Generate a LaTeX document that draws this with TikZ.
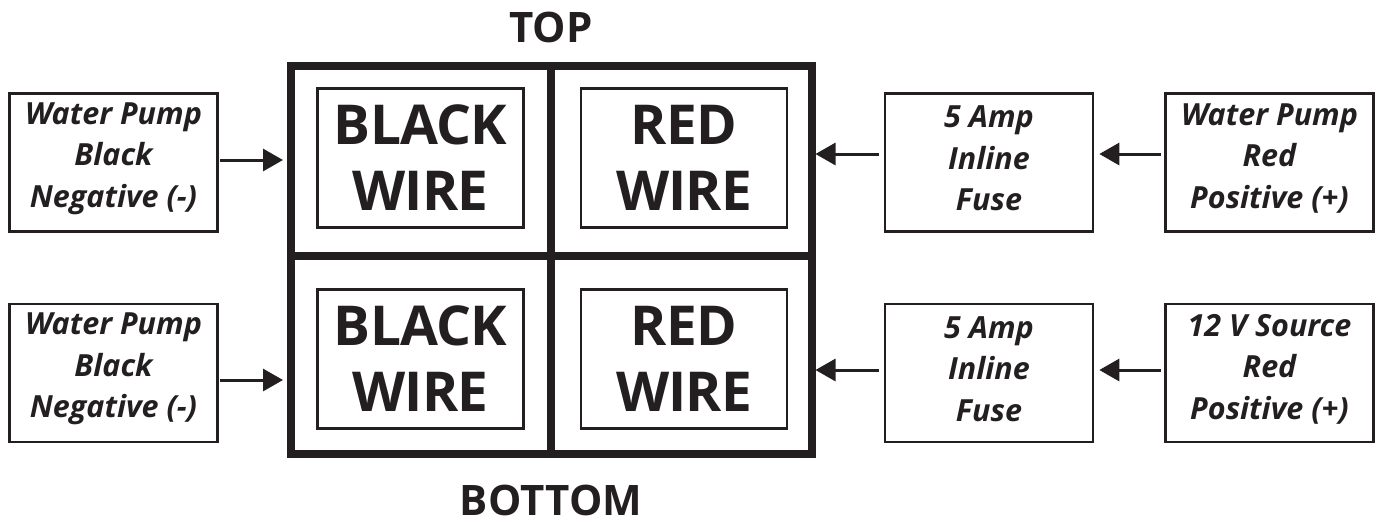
\documentclass[tikz,border=0pt]{standalone}
\usepackage{fontspec}
\setmainfont{Open Sans}
\usetikzlibrary{arrows.meta}
\definecolor{ink}{HTML}{231F20}
\begin{document}
\begin{tikzpicture}[x=1pt,y=-1pt,
  every node/.style={text=ink},
  frame/.style={draw=ink,line width=8pt,minimum width=520.5pt,minimum height=388.5pt,inner sep=0pt,outer sep=4pt},
  divider/.style={draw=ink,line width=8pt},
  wirebox/.style={draw=ink,line width=2.6pt,minimum width=206pt,minimum height=139pt,inner sep=0pt,outer sep=0pt,
    font=\fontsize{55}{66}\selectfont\bfseries\addfontfeature{LetterSpace=-1.5},align=center},
  sidebox/.style={draw=ink,line width=2.6pt,minimum width=208pt,minimum height=138pt,inner sep=0pt,outer sep=1.3pt},
  sidetext/.style={inner sep=0pt,font=\fontsize{30.5}{41.5}\selectfont\bfseries\itshape,align=center},
  title/.style={font=\fontsize{42}{50}\selectfont\bfseries,anchor=base,inner sep=0pt},
  arr/.style={draw=ink,line width=3pt,-{Triangle[length=20pt,width=22pt]}}]
\useasboundingbox (0,0) rectangle (1380,523);
% titles
\node[title] (top) at (551,42) {TOP};
\node[title] (bottom) at (551,515) {BOTTOM};
% frame
\node[frame] (frame) at (551.25,259.75) {};
\draw[divider] (frame.north |- 0,65.5) -- (frame.south |- 0,454);
\draw[divider] (291,255.5) -- (811.5,255.5);
% inner wire boxes
\node[wirebox] (tl) at (420.5,158) {BLACK\\WIRE};
\node[wirebox] (tr) at (684,158) {RED\\WIRE};
\node[wirebox] (bl) at (420.5,359) {BLACK\\WIRE};
\node[wirebox] (br) at (684,359) {RED\\WIRE};
% side boxes
\node[sidebox] (lb1) at (113.5,162.5) {};
\node[sidebox] (lb2) at (113.5,373) {};
\node[sidebox] (f1) at (989,162.5) {};
\node[sidebox] (f2) at (989,373) {};
\node[sidebox] (rb1) at (1269.5,162.5) {};
\node[sidebox] (rb2) at (1269.5,373) {};
\node[sidetext] (lt1) at ([yshift=4pt]lb1.center) {Water Pump\\Black\\Negative (-)};
\node[sidetext] (lt2) at ([yshift=4pt]lb2.center) {Water Pump\\Black\\Negative (-)};
\node[sidetext] (ft1) at ([yshift=4pt]f1.center) {5 Amp\\Inline\\Fuse};
\node[sidetext] (ft2) at ([yshift=4pt]f2.center) {5 Amp\\Inline\\Fuse};
\node[sidetext] (rt1) at ([yshift=4pt]rb1.center) {Water Pump\\Red\\Positive (+)};
\node[sidetext] (rt2) at ([yshift=4pt]rb2.center) {12 V Source\\Red\\Positive (+)};
% arrows
\coordinate (a1) at ([xshift=1pt,yshift=2.5pt]lb1.east);
\coordinate (a2) at ([xshift=1pt,yshift=-7pt]lb2.east);
\draw[arr,shorten >=4pt] (a1) -- (frame.west |- a1);
\draw[arr,shorten >=4pt] (a2) -- (frame.west |- a2);
\coordinate (b1) at ([xshift=-5pt,yshift=8.5pt]f1.west);
\coordinate (b2) at ([xshift=-5pt,yshift=3pt]f2.west);
\draw[arr] (b1) -- (frame.east |- b1);
\draw[arr] (b2) -- (frame.east |- b2);
\coordinate (c1) at ([xshift=-3pt,yshift=8.5pt]rb1.west);
\coordinate (c2) at ([xshift=-3pt,yshift=3pt]rb2.west);
\draw[arr,shorten >=5pt] (c1) -- (f1.east |- c1);
\draw[arr,shorten >=5pt] (c2) -- (f2.east |- c2);
\end{tikzpicture}
\end{document}
